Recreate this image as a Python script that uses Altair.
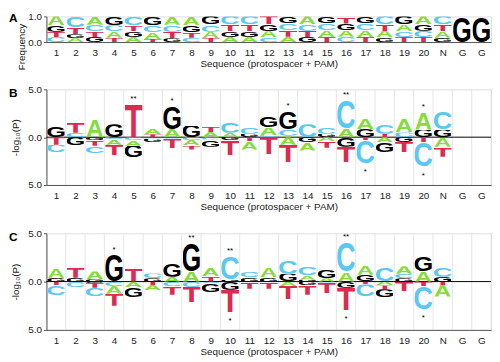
import json
import base64
import pandas as pd
import altair as alt

FONT = "Liberation Sans"

# ---------------- data ----------------
pos_labels = [str(i) for i in range(1, 21)] + ["N", "G", "G"]

# Panel A: base frequency per position, stacked bottom -> top
freq_A = [
    [("C", .20), ("T", .20), ("G", .25), ("A", .35)],
    [("A", .15), ("G", .15), ("T", .28), ("C", .42)],
    [("G", .20), ("T", .23), ("C", .25), ("A", .32)],
    [("T", .17), ("A", .24), ("C", .25), ("G", .34)],
    [("A", .20), ("G", .23), ("T", .23), ("C", .34)],
    [("T", .12), ("A", .25), ("C", .29), ("G", .34)],
    [("G", .15), ("T", .25), ("C", .28), ("A", .32)],
    [("C", .17), ("T", .20), ("G", .29), ("A", .34)],
    [("T", .16), ("A", .24), ("C", .28), ("G", .32)],
    [("A", .20), ("G", .22), ("T", .26), ("C", .32)],
    [("A", .20), ("G", .22), ("T", .28), ("C", .30)],
    [("C", .18), ("A", .24), ("G", .28), ("T", .30)],
    [("A", .21), ("T", .25), ("C", .26), ("G", .28)],
    [("G", .20), ("T", .24), ("C", .26), ("A", .30)],
    [("T", .20), ("A", .26), ("C", .26), ("G", .28)],
    [("C", .21), ("A", .25), ("G", .26), ("T", .28)],
    [("T", .20), ("A", .26), ("C", .26), ("G", .28)],
    [("G", .18), ("A", .25), ("T", .27), ("C", .30)],
    [("T", .20), ("C", .23), ("A", .27), ("G", .30)],
    [("T", .20), ("C", .24), ("G", .26), ("A", .30)],
    [("G", .17), ("A", .25), ("T", .28), ("C", .30)],
    [("G", 1.0)],
    [("G", 1.0)],
]

# Panel B: -log10(P); enriched letters (above zero, listed from zero upward)
up_B = [
    [("G", 1.15)],
    [("C", .45), ("T", 1.1)],
    [("A", 1.85)],
    [("G", 1.35)],
    [("T", 3.5)],
    [("T", .3), ("A", .55)],
    [("A", .85), ("G", 2.4)],
    [("G", 1.2)],
    [("A", .55), ("T", .6)],
    [("A", .45), ("C", 1.1)],
    [("G", .35), ("C", .65)],
    [("C", .2), ("A", .8), ("G", 1.1)],
    [("A", .15), ("C", .7), ("G", 1.9)],
    [("C", 1.35)],
    [("G", .35), ("C", .75)],
    [("A", .9), ("C", 3.0)],
    [("G", .85), ("A", 1.1)],
    [("T", .35), ("C", 1.0)],
    [("C", .5), ("A", 1.4)],
    [("G", .8), ("A", 1.8)],
    [("G", .8), ("C", 1.85)],
    [],
    [],
]
# depleted letters (below zero, listed from zero downward)
down_B = [
    [("T", .8), ("C", .8)],
    [("G", .85)],
    [("G", .3), ("T", .6), ("C", .75)],
    [("C", .2), ("A", .6), ("T", 1.1)],
    [("C", .3), ("A", .6), ("G", 1.2)],
    [("C", .15), ("G", .4)],
    [("C", .15), ("T", 1.0)],
    [("C", .3), ("A", .55), ("T", .45)],
    [("C", .25), ("G", .75)],
    [("G", .35), ("T", 1.55)],
    [("T", .4), ("A", .9)],
    [("T", 1.8)],
    [("A", .8), ("T", 1.8)],
    [("G", .55), ("A", .85)],
    [("A", .45), ("T", .65)],
    [("G", 1.0), ("T", 1.6)],
    [("T", .3), ("C", 2.45)],
    [("A", .5), ("G", 1.05)],
    [("G", .5), ("T", 1.1)],
    [("T", .5), ("C", 2.6)],
    [("A", 1.0), ("T", 1.05)],
    [],
    [],
]
stars_B = [(5, "up", "**"), (7, "up", "*"), (13, "up", "*"), (16, "up", "**"),
           (17, "down", "*"), (20, "up", "*"), (20, "down", "*")]

# Panel C
up_C = [
    [("G", .4), ("A", 1.0)],
    [("G", .4), ("T", 1.1)],
    [("G", .25), ("A", .8)],
    [("G", 2.75)],
    [("T", 1.35)],
    [("G", .35), ("C", .5)],
    [("A", .5), ("G", 1.4)],
    [("A", 1.05), ("G", 2.95)],
    [("T", .55), ("A", .85)],
    [("G", .2), ("C", 2.45)],
    [("G", .45), ("C", .6)],
    [("G", .45), ("A", .95)],
    [("G", .8), ("C", 1.45)],
    [("G", .2), ("A", .45), ("C", .9)],
    [("A", .35), ("G", .85)],
    [("A", 1.0), ("C", 3.1)],
    [("G", .7), ("A", .95)],
    [("C", 1.45)],
    [("G", .35), ("C", .45), ("A", .8)],
    [("A", 1.05), ("G", 1.55)],
    [("G", .5), ("C", 1.0)],
    [],
    [],
]
down_C = [
    [("T", .4), ("C", 1.0)],
    [("C", .55)],
    [("G", .15), ("T", .5), ("C", .85)],
    [("C", .45), ("A", .8), ("T", 1.25)],
    [("A", .55), ("G", 1.05)],
    [("T", .35), ("A", .55)],
    [("C", .45), ("T", .9)],
    [("C", .55), ("T", 1.6)],
    [("C", .2), ("G", .9)],
    [("G", .85), ("T", 2.3)],
    [("T", .75)],
    [("T", .75)],
    [("A", .45), ("T", 1.4)],
    [("G", .35), ("T", 1.0)],
    [("C", .1), ("T", 1.1)],
    [("G", .65), ("T", 2.3)],
    [("T", .3), ("C", 1.25)],
    [("A", .4), ("T", .4), ("G", .85)],
    [("T", 1.0)],
    [("T", .45), ("C", 2.4)],
    [("T", .35), ("A", 1.2)],
    [],
    [],
]
stars_C = [(4, "up", "*"), (8, "up", "**"), (10, "up", "**"), (10, "down", "*"),
           (16, "up", "**"), (16, "down", "*"), (20, "down", "*")]

letter_colors = {"A": "#86dc3c", "C": "#5ac8f0", "G": "#000000", "T": "#dc2a50"}

# ---------------- glyph images (stretchable letters) ----------------
glyph_box = {"A": (0, -716, 722, 716), "C": (40, -726, 640, 738),
             "G": (40, -726, 695, 738), "T": (18, -716, 575, 716)}


def glyph_url(letter):
    x0, y0, w, h = glyph_box[letter]
    svg = (f'<svg xmlns="http://www.w3.org/2000/svg" width="{w}" height="{h}" '
           f'viewBox="{x0} {y0} {w} {h}" preserveAspectRatio="none">'
           f'<text x="0" y="0" font-family="Liberation Sans, Arial, Helvetica, sans-serif" '
           f'font-weight="bold" font-size="1000" fill="{letter_colors[letter]}">{letter}</text></svg>')
    return "data:image/svg+xml;base64," + base64.b64encode(svg.encode()).decode()


glyph_df = pd.DataFrame({"letter": list("ACGT"), "url": [glyph_url(l) for l in "ACGT"]})


def stack(cols, sign):
    rows = []
    for i, col in enumerate(cols, start=1):
        base = 0.0
        for letter, h in col:
            rows.append({"pos": i, "letter": letter, "y0": sign * base, "y1": sign * (base + h)})
            base += h
    return rows


def star_rows(stars, up, down):
    rows = []
    for p, side, lab in stars:
        tot = sum(h for _, h in (up[p - 1] if side == "up" else down[p - 1]))
        rows.append({"pos": p, "side": side, "label": lab, "y": tot if side == "up" else -tot})
    return pd.DataFrame(rows)


# ---------------- chart ----------------
n = len(pos_labels)
W = 451
label_expr = json.dumps(pos_labels) + "[datum.value - 1]"
x_scale = alt.Scale(domain=[0.5, n + 0.5], nice=False, zero=False)


def x_enc(field):
    return alt.X(f"{field}:Q", scale=x_scale,
                 axis=alt.Axis(values=list(range(1, n + 1)), labelExpr=label_expr, ticks=False,
                               grid=False, domainColor="#555", labelFontSize=10, labelPadding=6,
                               labelColor="#222", labelFont=FONT,
                               title="Sequence (protospacer + PAM)", titleFontSize=10,
                               titleFontWeight="normal", titleColor="#222", titleFont=FONT,
                               titlePadding=1))


def make_y(ydom, yvals, title, title_x, label_expr=None, fmt=None, anchor=None, title_y=None):
    kw = dict(values=yvals, tickSize=3, tickColor="#555", domainColor="#555", grid=False,
              labelFontSize=10, labelPadding=2, labelColor="#222", labelFont=FONT,
              title=title, titleFontSize=10, titleFontWeight="normal", titleColor="#222",
              titleFont=FONT, titleX=title_x, titleBaseline="bottom")
    if label_expr:
        kw["labelExpr"] = label_expr
    if fmt:
        kw["format"] = fmt
    if anchor:
        kw["titleAnchor"] = anchor
    if title_y is not None:
        kw["titleY"] = title_y
    axis = alt.Axis(**kw)
    scale = alt.Scale(domain=ydom, nice=False, zero=False)
    return lambda field: alt.Y(f"{field}:Q", scale=scale, axis=axis)


def letters_layer(rows, y_enc):
    return (alt.Chart(pd.DataFrame(rows))
            .transform_lookup(lookup="letter", from_=alt.LookupData(glyph_df, "letter", ["url"]))
            .transform_calculate(xa="datum.pos - 0.46", xb="datum.pos + 0.46")
            .mark_image(aspect=False)
            .encode(x=x_enc("xa"), x2="xb", y=y_enc("y0"), y2="y1", url="url:N"))


def tag_layer(tag, y):
    return (alt.Chart(pd.DataFrame({"t": [tag]}))
            .mark_text(fontSize=12, fontWeight="bold", align="left", baseline="top", font=FONT)
            .encode(text="t:N", x=alt.value(-38), y=alt.value(y)))


def logo_panel(up, down, stars, tag, height):
    y_enc = make_y([-5, 5], [-5, 0, 5], "-log\u2081\u2080(P)", -26,
                   label_expr="format(abs(datum.value), '.1f')")
    grid = (alt.Chart(pd.DataFrame({"b": [k + 0.5 for k in range(1, n + 1)]}))
            .mark_rule(color="#e6e6e6", strokeWidth=1).encode(x=x_enc("b")))
    zero = (alt.Chart(pd.DataFrame({"z": [0]}))
            .mark_rule(color="#000", strokeWidth=1).encode(y=y_enc("z")))
    rows = stack(up, 1) + stack(down, -1)
    sdf = star_rows(stars, up, down)
    s_up = (alt.Chart(sdf).transform_filter("datum.side == 'up'")
            .mark_text(fontSize=8, dy=-3, baseline="alphabetic", font=FONT, color="#000")
            .encode(x=x_enc("pos"), y=y_enc("y"), text="label:N"))
    s_dn = (alt.Chart(sdf).transform_filter("datum.side == 'down'")
            .mark_text(fontSize=8, dy=11, baseline="alphabetic", font=FONT, color="#000")
            .encode(x=x_enc("pos"), y=y_enc("y"), text="label:N"))
    return alt.layer(grid, zero, letters_layer(rows, y_enc), s_up, s_dn,
                     tag_layer(tag, -1)).properties(width=W, height=height)


yA = make_y([0, 1], [0, 1], "Frequency", -20, fmt=".1f", anchor="end", title_y=7)
panel_A = alt.layer(letters_layer(stack(freq_A, 1), yA),
                    tag_layer("A", -3)).properties(width=W, height=26)
panel_B = logo_panel(up_B, down_B, stars_B, "B", 97)
panel_C = logo_panel(up_C, down_C, stars_C, "C", 98)

chart = (alt.vconcat(panel_A, alt.vconcat(panel_B, panel_C, spacing=15), spacing=13,
                     padding={"left": 0, "top": 0, "right": 0, "bottom": 0})
         .configure_view(stroke=None)
         .configure(background="white"))

chart.save("out.html", embed_options={"renderer": "svg", "actions": False})
